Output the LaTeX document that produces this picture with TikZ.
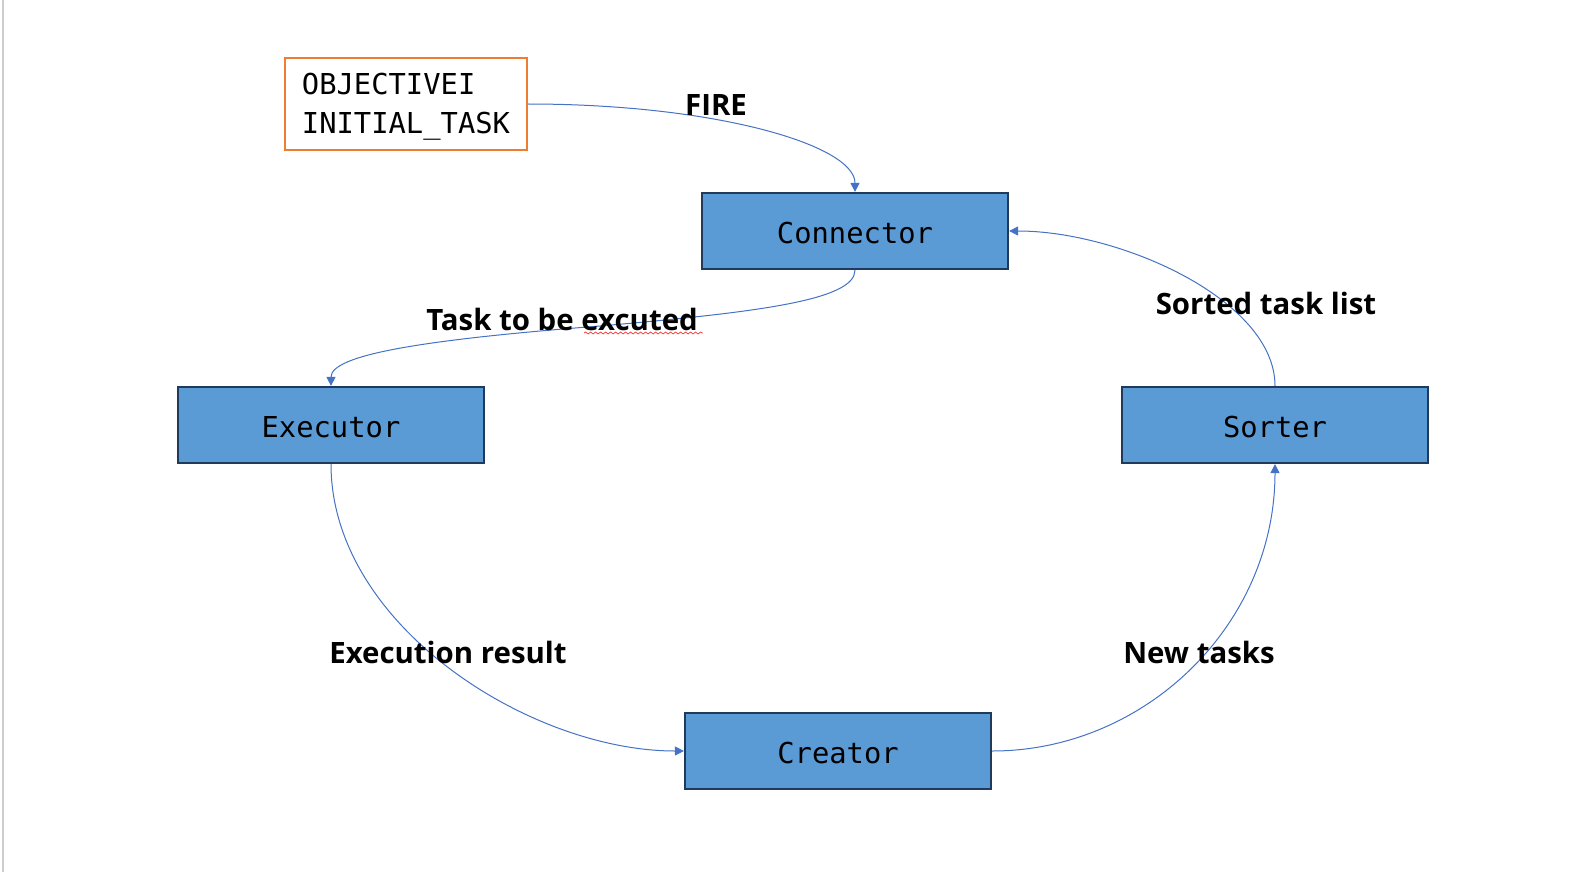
\documentclass[tikz,border=0pt]{standalone}
\usepackage{fontspec}
\setmonofont{DejaVu Sans Mono}
\newfontfamily\lblfont{Open Sans}[BoldFont={Open Sans Bold}]
\usepackage{xcolor}
\usetikzlibrary{arrows.meta, decorations.pathmorphing}

\definecolor{boxblue}{HTML}{5B9BD5}
\definecolor{boxedge}{HTML}{203A5C}
\definecolor{lineblue}{HTML}{4472C4}
\definecolor{objorange}{HTML}{ED7D31}

\newcommand{\lowtext}[1]{\raisebox{-1pt}[\height][\depth]{#1}}

\tikzset{
  block/.style={draw=boxedge, line width=1.1pt, fill=boxblue,
    minimum width=153pt, minimum height=38pt, inner sep=0pt,
    font=\ttfamily\fontsize{14.4}{17}\selectfont},
  flow/.style={draw=lineblue, line width=0.5pt,
    -{Triangle[width=4.5pt, length=4.5pt]}},
  lbl/.style={font=\lblfont\bfseries\fontsize{14.7}{17}\selectfont, inner sep=0pt}
}

\begin{document}
\begin{tikzpicture}[x=0.5pt, y=-0.5pt]
            \useasboundingbox (0,0) rectangle (1584,872);
            \draw[gray!40, line width=1pt] (2.5,0) -- (2.5,872);

            % 输入
            \node[draw=objorange, line width=1pt, minimum width=121pt, minimum height=45.5pt,
                  inner sep=0pt, font=\ttfamily\fontsize{14.4}{19.5}\selectfont] (obj) at (406,104)
                  {\lowtext{\begin{tabular}{@{}l@{}}OBJECTIVEI\\INITIAL\_TASK\end{tabular}}};

            % 模块
            \node[block] (con) at (855,231) {\lowtext{Connector}};
            \node[block] (exe) at (331,425) {\lowtext{Executor}};
            \node[block] (srt) at (1275,425) {\lowtext{Sorter}};
            \node[block] (cre) at (838,751) {\lowtext{Creator}};

            % 连线
            \draw[flow] (obj.east) .. controls (715,104) and (855,145) .. (con.north);
            \draw[flow] (con.south) .. controls (855,300) and (760,312) .. (600,326)
                        .. controls (420,340) and (331,355) .. (exe.north);
            \draw[flow] (exe.south) .. controls (331,625) and (530,751) .. (cre.west);
            \draw[flow] (cre.east) .. controls (1145,751) and (1275,625) .. (srt.south);
            \draw[flow] (srt.north) .. controls (1275,300) and (1120,231) .. (con.east);

            % 标签
            \node[lbl] (fire) at (716,105) {FIRE};
            \node[lbl] (tsk) at (562,319) {Task to be excuted};
            \node[lbl] (sorted) at (1266,303) {Sorted task list};
            \node[lbl] (res) at (448,652) {Execution result};
            \node[lbl] (new) at (1199,652) {New tasks};
            \draw[red!80, line width=0.35pt, decorate,
                  decoration={snake, segment length=2.5pt, amplitude=0.5pt}]
                  (584,333) -- (703,333);
        \end{tikzpicture}
\end{document}
